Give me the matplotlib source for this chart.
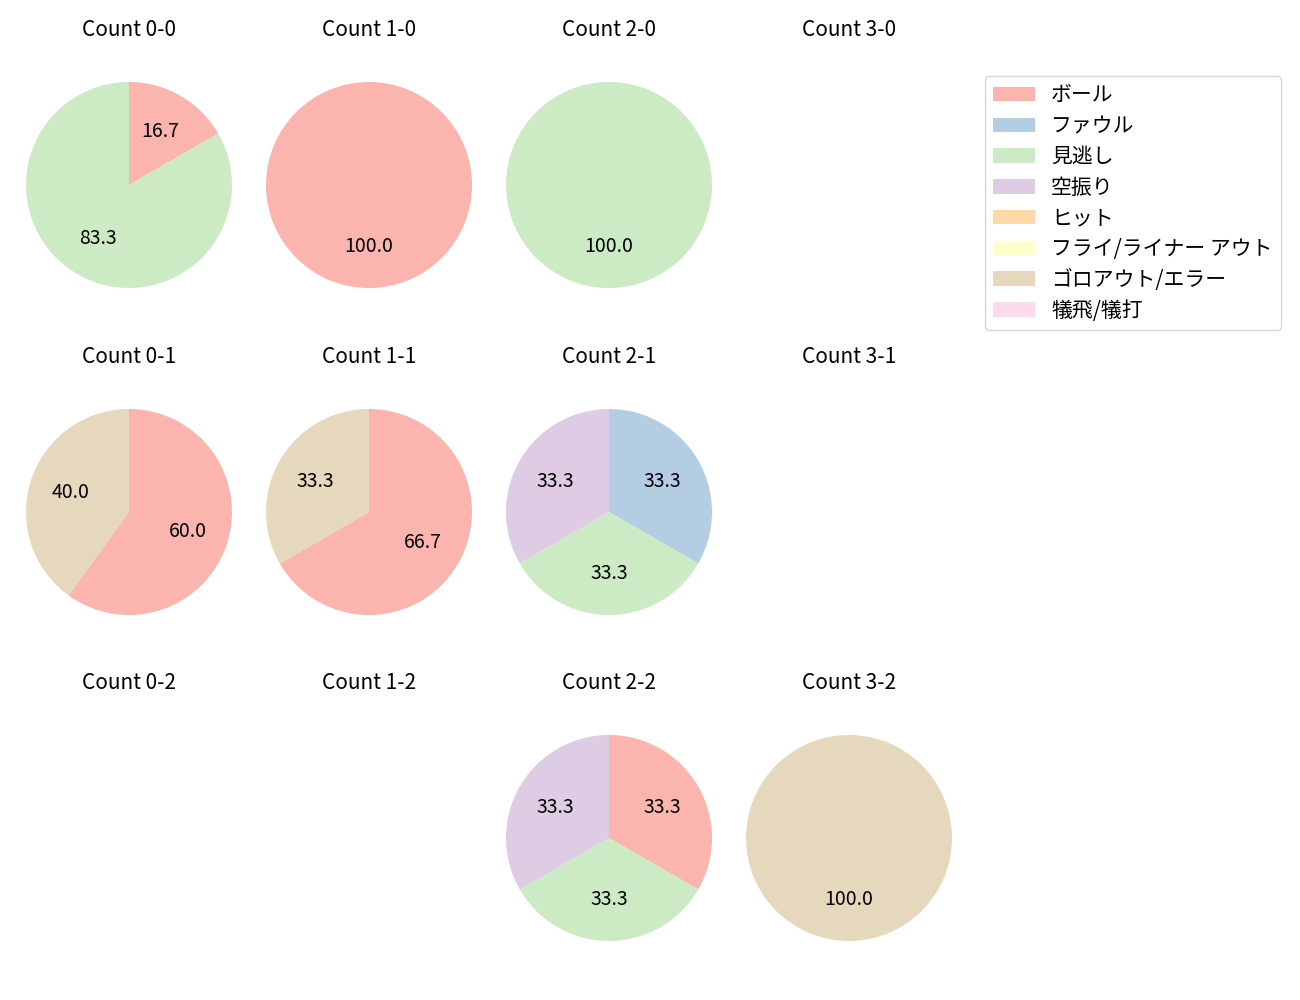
import matplotlib
matplotlib.use('Agg')
import matplotlib.pyplot as plt
from matplotlib.patches import Patch

plt.rcParams['font.family'] = ['Noto Sans CJK JP', 'DejaVu Sans']

categories = ['ボール', 'ファウル', '見逃し', '空振り', 'ヒット',
              'フライ/ライナー アウト', 'ゴロアウト/エラー', '犠飛/犠打']
colors = ['#fbb4ae', '#b3cde3', '#ccebc5', '#decbe4', '#fed9a6',
          '#ffffcc', '#e5d8bd', '#fddaec']

count_labels = ['0-0', '1-0', '2-0', '3-0',
                '0-1', '1-1', '2-1', '3-1',
                '0-2', '1-2', '2-2', '3-2']

# pitch counts per category (same order as categories)
c00 = [1, 0, 5, 0, 0, 0, 0, 0]
c10 = [1, 0, 0, 0, 0, 0, 0, 0]
c20 = [0, 0, 1, 0, 0, 0, 0, 0]
c30 = [0, 0, 0, 0, 0, 0, 0, 0]
c01 = [3, 0, 0, 0, 0, 0, 2, 0]
c11 = [2, 0, 0, 0, 0, 0, 1, 0]
c21 = [0, 1, 1, 1, 0, 0, 0, 0]
c31 = [0, 0, 0, 0, 0, 0, 0, 0]
c02 = [0, 0, 0, 0, 0, 0, 0, 0]
c12 = [0, 0, 0, 0, 0, 0, 0, 0]
c22 = [1, 0, 1, 1, 0, 0, 0, 0]
c32 = [0, 0, 0, 0, 0, 0, 1, 0]
all_counts = [c00, c10, c20, c30, c01, c11, c21, c31, c02, c12, c22, c32]

W, H = 1300, 1000
fig = plt.figure(figsize=(13, 10), dpi=100)

col_x = [129, 369, 609, 849]
row_y = [185, 512, 838]
side = 240
r_px = 103
lim = (side / 2) / r_px

for i, vals in enumerate(all_counts):
    cx = col_x[i % 4]
    cy = row_y[i // 4]
    ax = fig.add_axes([(cx - side / 2) / W, 1 - (cy + side / 2) / H, side / W, side / H])
    ax.set_title('Count ' + count_labels[i], fontsize=15, pad=21)
    if sum(vals) > 0:
        v = [x for x in vals if x > 0]
        c = [colors[k] for k, x in enumerate(vals) if x > 0]
        ax.pie(v, colors=c, autopct='%.1f', startangle=90, counterclock=False,
               textprops={'fontsize': 14})
    ax.set_xlim(-lim, lim)
    ax.set_ylim(-lim, lim)
    ax.set_aspect('equal')
    ax.axis('off')

handles = [Patch(facecolor=colors[k], label=categories[k]) for k in range(len(categories))]
fig.legend(handles=handles, loc='upper right', bbox_to_anchor=(1281 / W, 1 - 76 / H),
           borderaxespad=0, fontsize=15, labelspacing=0.42)

fig.savefig('out.png')
